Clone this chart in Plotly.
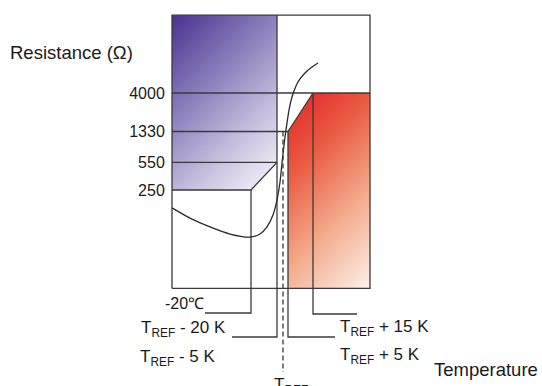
import numpy as np
import plotly.graph_objects as go

# ---------------- data ----------------
resistance_ticks = [250, 550, 1330, 4000]          # Ω
resistance_tick_text = ["250", "550", "1330", "4000"]
temp_labels = ["-20℃", "T<sub>REF</sub> - 20 K", "T<sub>REF</sub> - 5 K",
               "T<sub>REF</sub>", "T<sub>REF</sub> + 5 K", "T<sub>REF</sub> + 15 K"]
# positions of the temperature markers on the schematic temperature axis
temp_marks = {"-20C": 251, "ref-20": 277, "ref": 283, "ref+5": 288, "ref+15": 313}
# PTC curve (schematic temperature, resistance in Ω)
curve_t = [172, 190, 210, 230, 250, 260, 267, 273, 277, 280, 282, 284, 286, 289, 292, 296, 300, 306, 312, 318]
curve_r = [150, 112, 87, 71, 65, 71, 87, 122, 188, 314, 541, 905, 1390, 2460, 3570, 4890, 5970, 7290, 8410, 9430]

# ---------------- layout geometry ----------------
W, H = 542, 386
YLO, YHI = -0.0352, 4.7566            # log10 range of the resistance axis
T_LO, T_HI = 172, 370                  # box extent on the temperature axis
R_LO, R_HI = 15, 37000                 # box extent on the resistance axis
LINE = "#3a3a3a"
FONT = "Liberation Sans, Arial, sans-serif"


def fy(p):
    """figure pixel row -> paper fraction"""
    return 1 - p / H


def r_at(p):
    """figure pixel row -> resistance value on the log axis"""
    return 10 ** (YLO + fy(p) * (YHI - YLO))


px_dec = H / (YHI - YLO)

fig = go.Figure()


def gradient(t0, t1, r0, r1, colors, n=80):
    te = np.linspace(t0, t1, n + 1)
    re = np.logspace(np.log10(r0), np.log10(r1), n + 1)
    tc = (te[:-1] + te[1:]) / 2
    rc = np.sqrt(re[:-1] * re[1:])
    dx = tc - t0
    dy = (np.log10(r1) - np.log10(rc)) * px_dec
    w = t1 - t0
    h = (np.log10(r1) - np.log10(r0)) * px_dec
    z = (dx[None, :] + dy[:, None]) / (w + h)
    fig.add_trace(go.Heatmap(x=te, y=re, z=z, zmin=0, zmax=1, colorscale=colors,
                             showscale=False, zsmooth="best", hoverinfo="skip"))


# purple region (cold side)
gradient(T_LO, temp_marks["ref-20"], resistance_ticks[0], R_HI,
         [[0, "#4a3390"], [0.35, "#8a7bbb"], [0.7, "#cbc3e0"], [1, "#fbfafd"]])
# red region (hot side)
gradient(temp_marks["ref+5"], T_HI, R_LO, resistance_ticks[3],
         [[0, "#e3222a"], [0.3, "#ea5a42"], [0.65, "#f4ad8e"], [1, "#fdf1ec"]])

# white notches (perspective bevels)
fig.add_trace(go.Scatter(
    x=[temp_marks["-20C"], temp_marks["ref-20"], temp_marks["ref-20"], temp_marks["-20C"]],
    y=[resistance_ticks[0], resistance_ticks[1], resistance_ticks[0], resistance_ticks[0]],
    fill="toself", fillcolor="white", mode="none", hoverinfo="skip"))
fig.add_trace(go.Scatter(
    x=[temp_marks["ref+5"], temp_marks["ref+15"], temp_marks["ref+5"], temp_marks["ref+5"]],
    y=[resistance_ticks[2], resistance_ticks[3], resistance_ticks[3], resistance_ticks[2]],
    fill="toself", fillcolor="white", mode="none", hoverinfo="skip"))

# solid construction lines
segs = [
    # box
    [(T_LO, R_LO), (T_HI, R_LO), (T_HI, R_HI), (T_LO, R_HI), (T_LO, R_LO)],
    # resistance levels
    [(T_LO, resistance_ticks[3]), (T_HI, resistance_ticks[3])],
    [(T_LO, resistance_ticks[2]), (temp_marks["ref+5"], resistance_ticks[2])],
    [(T_LO, resistance_ticks[1]), (temp_marks["ref-20"], resistance_ticks[1])],
    [(T_LO, resistance_ticks[0]), (temp_marks["-20C"], resistance_ticks[0])],
    # bevel diagonals
    [(temp_marks["-20C"], resistance_ticks[0]), (temp_marks["ref-20"], resistance_ticks[1])],
    [(temp_marks["ref+5"], resistance_ticks[2]), (temp_marks["ref+15"], resistance_ticks[3])],
    # verticals + leaders
    [(temp_marks["ref-20"], R_HI), (temp_marks["ref-20"], r_at(337)), (232, r_at(337))],
    [(temp_marks["-20C"], resistance_ticks[0]), (temp_marks["-20C"], r_at(313)), (205, r_at(313))],
    [(temp_marks["ref+5"], resistance_ticks[2]), (temp_marks["ref+5"], r_at(337)), (335, r_at(337))],
    [(temp_marks["ref+15"], resistance_ticks[3]), (temp_marks["ref+15"], r_at(314)), (357, r_at(314))],
]
xs, ys = [], []
for s in segs:
    for (a, b) in s:
        xs.append(a)
        ys.append(b)
    xs.append(None)
    ys.append(None)
fig.add_trace(go.Scatter(x=xs, y=ys, mode="lines", line=dict(color=LINE, width=1.3),
                         hoverinfo="skip", connectgaps=False))

# dashed T_REF line
fig.add_trace(go.Scatter(x=[temp_marks["ref"], temp_marks["ref"]],
                         y=[resistance_ticks[2], r_at(372)], mode="lines",
                         line=dict(color=LINE, width=1.3, dash="5px,3px"), hoverinfo="skip"))

# the PTC curve
fig.add_trace(go.Scatter(x=curve_t, y=curve_r, mode="lines",
                         line=dict(color="#2a2a2a", width=1.3, shape="spline", smoothing=0.8),
                         hoverinfo="skip"))

# text
ann = []


def text(s, x, y, xanchor, size):
    ann.append(dict(text=s, x=x / W, y=fy(y), xref="paper", yref="paper", xanchor=xanchor,
                    yanchor="middle", showarrow=False, font=dict(size=size, color="#1a1a1a", family=FONT)))


text("Resistance (Ω)", 8, 52, "left", 18.5)
text("Temperature", 432, 369, "left", 18.5)
text(temp_labels[0], 163, 303, "left", 16)
text(temp_labels[1], 228, 329, "right", 17)
text(temp_labels[2], 217, 358, "right", 17)
text(temp_labels[5], 338, 328, "left", 17)
text(temp_labels[4], 338, 356, "left", 17)
text(temp_labels[3], 272, 386, "left", 17)

fig.update_layout(
    width=W, height=H, margin=dict(l=0, r=0, t=0, b=0),
    paper_bgcolor="white", plot_bgcolor="white", showlegend=False,
    annotations=ann, template="none",
    xaxis=dict(range=[0, W], visible=False, fixedrange=True),
    yaxis=dict(type="log", range=[YLO, YHI], tickvals=resistance_ticks, ticktext=resistance_tick_text,
               anchor="free", position=T_LO / W, side="left", showgrid=False, zeroline=False,
               showline=False, ticks="outside", ticklen=4, tickcolor="rgba(0,0,0,0)",
               tickfont=dict(size=16, color="#1a1a1a", family=FONT), automargin=False, fixedrange=True),
)

fig.write_html("out.html")
